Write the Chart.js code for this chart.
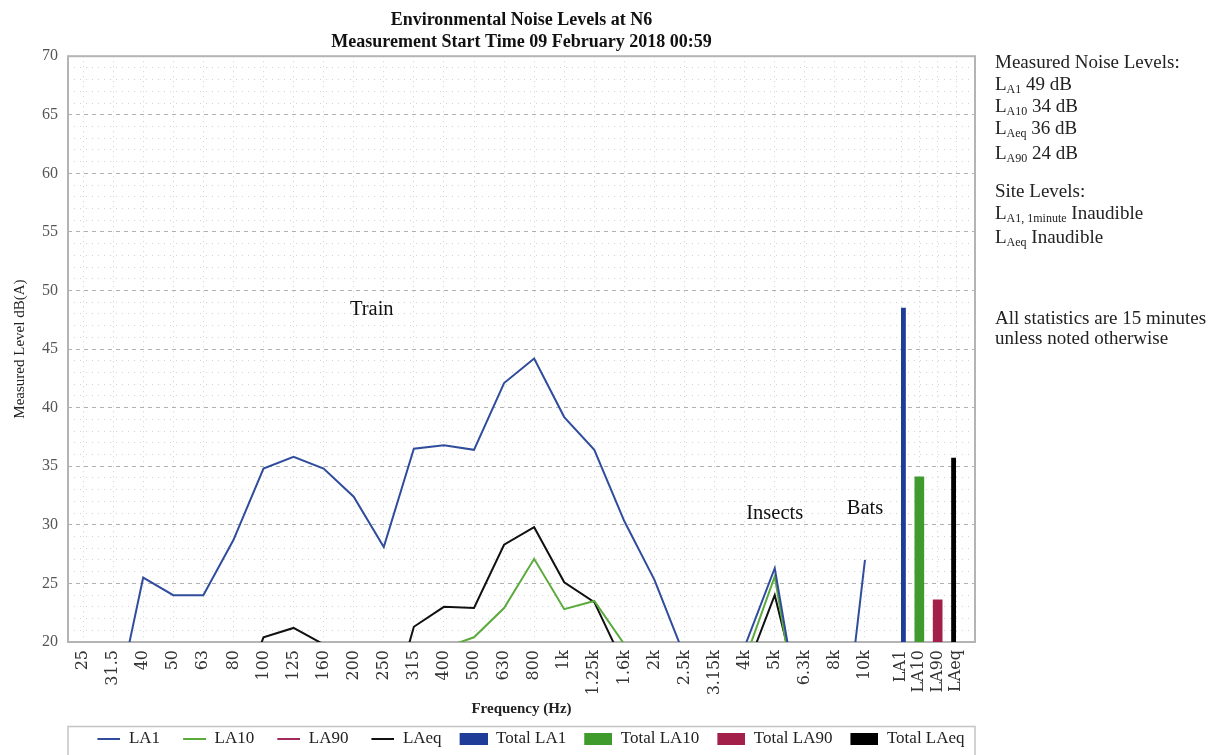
<!DOCTYPE html>
<html>
<head>
<meta charset="utf-8">
<title>Environmental Noise Levels at N6</title>
<script src="https://cdn.jsdelivr.net/npm/chart.js@4.4.1/dist/chart.umd.min.js"></script>
<style>
  html, body { margin: 0; padding: 0; background: #fff; }
  #wrap { position: relative; width: 1222px; height: 755px; overflow: hidden; }
  #c { position: absolute; left: 0; top: 0; }
  #panel {
    position: absolute; left: 995px; top: 0; width: 227px; height: 755px;
    font-family: "Liberation Serif", "DejaVu Serif", serif; font-size: 19px; color: #222;
  }
  #panel div { position: absolute; left: 0; height: 24px; line-height: 24px; white-space: nowrap; }
  #panel sub { font-size: 12px; vertical-align: -3px; line-height: 0; }
</style>
</head>
<body>
<div id="wrap">
  <canvas id="c" width="1222" height="755"></canvas>
  <div id="panel"></div>
</div>
<script>
// One-third octave band centre frequencies
const freqBands = ['25', '31.5', '40', '50', '63', '80', '100', '125', '160', '200', '250', '315', '400',
  '500', '630', '800', '1k', '1.25k', '1.6k', '2k', '2.5k', '3.15k', '4k', '5k', '6.3k', '8k', '10k'];

// Band levels, dB(A); null where the band sits well under the 20 dB floor
const la1Levels = [null, 13.4, 25.5, 24.0, 24.0, 28.7, 34.8, 35.8, 34.8, 32.4, 28.1, 36.5, 36.8,
  36.4, 42.1, 44.2, 39.2, 36.4, 30.3, 25.3, 18.8, null, 19.6, 26.3, 11.3, 5.0, 27.0];
const la10Levels = [null, null, null, null, null, null, null, null, null, null, null, null, 19.5,
  20.4, 22.9, 27.1, 22.8, 23.5, 19.8, null, null, null, 18.4, 25.6, 10.3, null, null];
const la90Levels = [null, null, null, null, null, null, null, null, null, null, null, null, null,
  null, null, null, null, null, null, null, null, null, null, null, null, null, null];
const laeqLevels = [null, null, null, null, null, 13.5, 20.4, 21.2, 19.8, null, 12.2, 21.3, 23.0,
  22.9, 28.3, 29.8, 25.1, 23.4, 18.0, null, null, null, 17.3, 24.0, 13.6, null, null];

// Overall statistics for the 15 minute period
const totalLabels = ['LA1', 'LA10', 'LA90', 'LAeq'];
const totalValues = [48.5, 34.1, 23.6, 35.7];

const yTicks = [20, 25, 30, 35, 40, 45, 50, 55, 60, 65, 70];

const SERIF = '"Liberation Serif", "DejaVu Serif", serif';
const WIDE_SERIF = '"DejaVu Serif", "Liberation Serif", serif';

// Side panel text, levels rounded from the totals
(function buildPanel() {
  const v = i => Math.round(totalValues[i]);
  const rows = [
    [50, 'Measured Noise Levels:'],
    [72, 'L<sub>A1</sub> ' + v(0) + ' dB'],
    [94, 'L<sub>A10</sub> ' + v(1) + ' dB'],
    [116, 'L<sub>Aeq</sub> ' + v(3) + ' dB'],
    [141, 'L<sub>A90</sub> ' + v(2) + ' dB'],
    [179, 'Site Levels:'],
    [201, 'L<sub>A1, 1minute</sub> Inaudible'],
    [225, 'L<sub>Aeq</sub> Inaudible'],
    [306, 'All statistics are 15 minutes'],
    [326, 'unless noted otherwise']
  ];
  document.getElementById('panel').innerHTML =
    rows.map(r => '<div style="top:' + r[0] + 'px">' + r[1] + '</div>').join('');
})();

// Legend swatches, drawn at the right of a fixed-width cell
const SWATCH_CELL = 42;
function swatch(color, w, h) {
  const c = document.createElement('canvas');
  c.width = SWATCH_CELL; c.height = h;
  const g = c.getContext('2d');
  g.fillStyle = color; g.fillRect(SWATCH_CELL - w, 0, w, h);
  return c;
}

const lineColors = ['#2f4d9c', '#5aaa3c', '#a32a5c', '#111111'];
const barColors = ['#1f3c98', '#3f9b2b', '#a3204a', '#000000'];

function lineSet(label, data, color) {
  return {
    type: 'line', label, data, xAxisID: 'x', yAxisID: 'y',
    borderColor: color, backgroundColor: color, borderWidth: 2,
    pointRadius: 0, pointHoverRadius: 0, tension: 0, spanGaps: false,
    pointStyle: swatch(color, 23, 2), order: 1
  };
}
function barSet(i) {
  return {
    type: 'bar', label: 'Total ' + totalLabels[i],
    data: totalLabels.map((_, j) => (j === i ? totalValues[i] : null)),
    xAxisID: 'xt', yAxisID: 'y', backgroundColor: barColors[i],
    borderWidth: 0, barThickness: 9, grouped: false,
    pointStyle: swatch(barColors[i], 28, 12), order: 2
  };
}

// Plot frame, text notes and legend outline
const framePlugin = {
  id: 'frame',
  beforeDatasetsDraw(chart) {
    const a = chart.chartArea, ctx = chart.ctx;
    ctx.save();
    ctx.strokeStyle = '#b4b4b4';
    ctx.lineWidth = 2;
    ctx.strokeRect(a.left, a.top, a.right - a.left, a.bottom - a.top);
    ctx.restore();
  },
  afterDraw(chart) {
    const a = chart.chartArea, lg = chart.legend, ctx = chart.ctx;
    ctx.save();
    ctx.strokeStyle = '#c4c4c4';
    ctx.lineWidth = 1.5;
    ctx.strokeRect(a.left, lg.top, a.right - a.left, lg.height + 10);
    ctx.restore();
  }
};

const notes = [
  { text: 'Train', band: 9.6, level: 48.4 },
  { text: 'Insects', band: 23, level: 31.0 },
  { text: 'Bats', band: 26, level: 31.4 }
];
const notesPlugin = {
  id: 'notes',
  afterDatasetsDraw(chart) {
    const ctx = chart.ctx, xs = chart.scales.x, ys = chart.scales.y;
    ctx.save();
    ctx.font = '20.5px ' + SERIF;
    ctx.fillStyle = '#111';
    ctx.textAlign = 'center';
    ctx.textBaseline = 'middle';
    notes.forEach(n => ctx.fillText(n.text, xs.getPixelForValue(n.band), ys.getPixelForValue(n.level)));
    ctx.restore();
  }
};

const gridMinor = 'rgba(165,165,165,0.5)';
const gridMajor = 'rgba(150,150,150,0.75)';

const spacer = (w) => ({
  type: 'category', labels: [''], position: 'bottom', stack: 'bands', stackWeight: w,
  display: true, offset: false,
  ticks: { display: false }, grid: { display: false, drawTicks: false }, border: { display: false }
});

const bandTicks = {
  autoSkip: false, maxRotation: 90, minRotation: 90, padding: 8, color: '#333',
  font: { family: WIDE_SERIF, size: 16 }
};
const bandAxisHeight = s => { s.height = 53; };

new Chart(document.getElementById('c'), {
  type: 'bar',
  data: {
    datasets: [
      lineSet('LA1', la1Levels, lineColors[0]),
      lineSet('LA10', la10Levels, lineColors[1]),
      lineSet('LA90', la90Levels, lineColors[2]),
      lineSet('LAeq', laeqLevels, lineColors[3]),
      barSet(0), barSet(1), barSet(2), barSet(3)
    ]
  },
  options: {
    responsive: false,
    animation: false,
    devicePixelRatio: 1,
    layout: { padding: { left: 0, right: 247, top: 0, bottom: -2.5 } },
    plugins: {
      title: {
        display: true,
        fullSize: false,
        text: ['Environmental Noise Levels at N6', 'Measurement Start Time 09 February 2018 00:59'],
        font: { family: SERIF, size: 18, weight: 'bold', lineHeight: 1.2 },
        color: '#111',
        padding: { top: 10, bottom: 3 }
      },
      legend: {
        position: 'bottom',
        fullSize: false,
        labels: {
          usePointStyle: true,
          pointStyleWidth: SWATCH_CELL,
          boxHeight: 12,
          padding: 4,
          color: '#222',
          font: { family: SERIF, size: 17 }
        }
      },
      tooltip: { enabled: false }
    },
    scales: {
      y: {
        type: 'linear', position: 'left', min: yTicks[0], max: yTicks[yTicks.length - 1],
        afterFit(s) { s.width = 68; },
        ticks: {
          stepSize: 1, autoSkip: false, padding: 10, color: '#555',
          font: { family: SERIF, size: 16 },
          callback: v => (yTicks.includes(v) ? String(v) : '')
        },
        grid: {
          drawTicks: false, lineWidth: 1,
          color: c => (c.tick && c.tick.value % 5 === 0 ? gridMajor : gridMinor)
        },
        border: { display: false, dash: c => (c.tick && c.tick.value % 5 === 0 ? [4, 4] : [1, 5]) },
        title: {
          display: true, text: 'Measured Level dB(A)', color: '#222',
          font: { family: SERIF, size: 15 }, padding: { top: 11, bottom: 0 }
        }
      },
      x: {
        type: 'category', labels: freqBands, position: 'bottom',
        stack: 'bands', stackWeight: 812, offset: true,
        afterFit: bandAxisHeight,
        ticks: bandTicks,
        grid: { offset: false, drawTicks: false, color: gridMinor, lineWidth: 1 },
        border: { display: false, dash: [1, 4] }
      },
      gapA: spacer(21),
      xt: {
        type: 'category', labels: totalLabels, position: 'bottom',
        stack: 'bands', stackWeight: 55, offset: false,
        afterFit: bandAxisHeight,
        ticks: bandTicks,
        grid: { offset: false, drawTicks: false, color: gridMinor, lineWidth: 1 },
        border: { display: false, dash: [1, 4] }
      },
      gapB: spacer(19),
      xName: {
        type: 'category', labels: [''], position: 'bottom', weight: 1, display: true,
        ticks: { display: false }, grid: { display: false, drawTicks: false }, border: { display: false },
        title: {
          display: true, text: 'Frequency (Hz)', color: '#222',
          font: { family: SERIF, size: 15, weight: 'bold' }, padding: { top: 5, bottom: 8.5 }
        }
      }
    }
  },
  plugins: [framePlugin, notesPlugin]
});
</script>
</body>
</html>
